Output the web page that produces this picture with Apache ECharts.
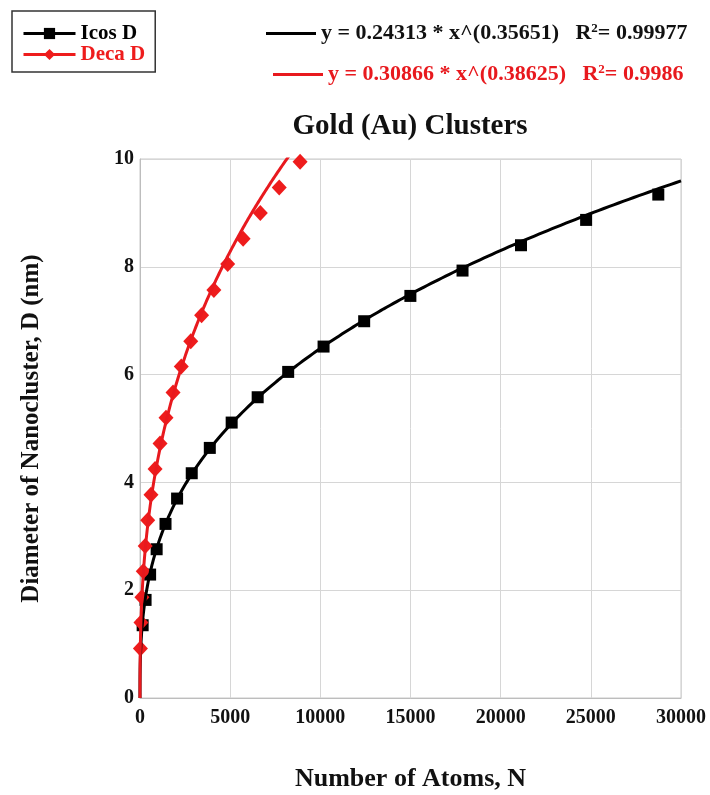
<!DOCTYPE html>
<html>
<head>
<meta charset="utf-8">
<script src="https://cdn.jsdelivr.net/npm/echarts@6/dist/echarts.min.js"></script>
<style>
  html, body { margin: 0; padding: 0; background: #fff; }
  #chart { width: 710px; height: 795px; }
</style>
</head>
<body>
<div id="chart"></div>
<script>
// Icosahedral clusters: magic numbers of atoms and cluster diameter (nm)
const icosN = [147, 309, 561, 923, 1415, 2057, 2869, 3871, 5083, 6525, 8217, 10179, 12431, 14993, 17885, 21127, 24739, 28741];
const icosD = [1.35, 1.82, 2.29, 2.76, 3.23, 3.70, 4.17, 4.64, 5.11, 5.58, 6.05, 6.52, 6.99, 7.46, 7.93, 8.40, 8.87, 9.34];

// Decahedral clusters
const decaN = [23, 54, 105, 181, 287, 428, 609, 835, 1111, 1442, 1833, 2289, 2815, 3416, 4097, 4863, 5719, 6670, 7721, 8877];
const decaD = [0.92, 1.40, 1.87, 2.35, 2.82, 3.30, 3.77, 4.25, 4.72, 5.20, 5.67, 6.15, 6.62, 7.10, 7.57, 8.05, 8.52, 9.00, 9.47, 9.95];

// Power-law fits y = a * x^b and their R^2
const icosFit = { a: 0.24313, b: 0.35651, r2: '0.99977' };
const decaFit = { a: 0.30866, b: 0.38625, r2: '0.9986' };

// Axis ticks
const xTicks = [0, 5000, 10000, 15000, 20000, 25000, 30000];
const yTicks = [0, 2, 4, 6, 8, 10];

const FONT = '"Liberation Serif", "Times New Roman", serif';

function pairs(xs, ys) { return xs.map((x, i) => [x, ys[i]]); }

// Trend curve evaluated along the x axis, denser near zero where it is steep
function fitCurve(fit, xMax) {
  const pts = [];
  const n = 300;
  for (let i = 0; i <= n; i++) {
    const x = xMax * Math.pow(i / n, 3);
    pts.push([x, fit.a * Math.pow(x, fit.b)]);
  }
  return pts;
}

function eqName(fit) { return 'y = ' + fit.a + ' * x^(' + fit.b + ')'; }

const icosEq = eqName(icosFit);
const decaEq = eqName(decaFit);

const chart = echarts.init(document.getElementById('chart'));

const eqText = (color) => ({
  fontFamily: FONT, fontWeight: 'bold', fontSize: 22, color: color,
  rich: {
    t: { fontFamily: FONT, fontWeight: 'bold', fontSize: 22, color: color },
    s: { fontFamily: FONT, fontWeight: 'bold', fontSize: 13, color: color, verticalAlign: 'top', padding: [0, 0, 10, 0] }
  }
});

chart.setOption({
  animation: false,
  backgroundColor: '#ffffff',
  title: {
    text: 'Gold (Au) Clusters',
    left: 410,
    top: 112,
    padding: 0,
    textAlign: 'center',
    textStyle: { fontFamily: FONT, fontWeight: 'bold', fontSize: 29, color: '#111' }
  },
  legend: [
    {
      data: ['Icos D', 'Deca D'],
      orient: 'vertical',
      left: 12,
      top: 11,
      itemWidth: 52,
      itemHeight: 14,
      itemGap: 0,
      padding: [12, 10, 7, 10],
      borderColor: '#333',
      borderWidth: 1.5,
      selectedMode: false,
      lineStyle: { width: 3, opacity: 1 },
      textStyle: { fontFamily: FONT, fontWeight: 'bold', fontSize: 21, color: 'inherit' }
    },
    {
      data: [icosEq],
      left: 261,
      top: 17,
      itemWidth: 50,
      itemHeight: 3,
      selectedMode: false,
      icon: 'rect',
      textStyle: eqText('#111'),
      formatter: (name) => '{t|' + name + '   R}{s|2}{t|= ' + icosFit.r2 + '}'
    },
    {
      data: [decaEq],
      left: 268,
      top: 58,
      itemWidth: 50,
      itemHeight: 3,
      selectedMode: false,
      icon: 'rect',
      textStyle: eqText('#e8191e'),
      formatter: (name) => '{t|' + name + '   R}{s|2}{t|= ' + decaFit.r2 + '}'
    }
  ],
  grid: {
    left: 140, right: 29, top: 159, bottom: 97,
    outerBoundsMode: 'none',
    show: true, borderColor: '#c8c8c8', borderWidth: 1
  },
  xAxis: {
    type: 'value',
    min: xTicks[0], max: xTicks[xTicks.length - 1], interval: 5000,
    name: 'Number of Atoms, N',
    nameLocation: 'middle',
    nameGap: 68,
    nameTextStyle: { fontFamily: FONT, fontWeight: 'bold', fontSize: 26, color: '#111' },
    axisLine: { show: true, lineStyle: { color: '#bdbdbd', width: 1 } },
    axisTick: { show: false },
    axisLabel: {
      margin: 10, fontFamily: FONT, fontWeight: 'bold', fontSize: 20, color: '#111',
      formatter: (v) => String(v)
    },
    splitLine: { show: true, lineStyle: { color: '#d6d6d6', width: 1 } }
  },
  yAxis: {
    type: 'value',
    min: yTicks[0], max: yTicks[yTicks.length - 1], interval: 2,
    name: 'Diameter of Nanocluster, D (nm)',
    nameLocation: 'middle',
    nameGap: 96,
    nameTextStyle: { fontFamily: FONT, fontWeight: 'bold', fontSize: 25, color: '#111' },
    axisLine: { show: true, lineStyle: { color: '#bdbdbd', width: 1 } },
    axisTick: { show: false },
    axisLabel: {
      margin: 6, fontFamily: FONT, fontWeight: 'bold', fontSize: 20, color: '#111',
      formatter: (v) => String(v)
    },
    splitLine: { show: true, lineStyle: { color: '#d6d6d6', width: 1 } }
  },
  series: [
    {
      name: 'Icos D',
      type: 'line',
      data: pairs(icosN, icosD),
      symbol: 'rect',
      symbolSize: 12,
      showAllSymbol: true,
      itemStyle: { color: '#000' },
      lineStyle: { color: '#000', width: 3, opacity: 0 },
      z: 3
    },
    {
      name: 'Deca D',
      type: 'line',
      data: pairs(decaN, decaD),
      symbol: 'diamond',
      symbolSize: [15, 16],
      showAllSymbol: true,
      itemStyle: { color: '#ee1c1c' },
      lineStyle: { color: '#ee1c1c', width: 3, opacity: 0 },
      z: 3
    },
    {
      name: icosEq,
      type: 'line',
      data: fitCurve(icosFit, 30000),
      showSymbol: false,
      itemStyle: { color: '#000' },
      lineStyle: { color: '#000', width: 3 },
      z: 4
    },
    {
      name: decaEq,
      type: 'line',
      data: fitCurve(decaFit, 9000),
      showSymbol: false,
      itemStyle: { color: '#e8191e' },
      lineStyle: { color: '#e8191e', width: 3 },
      z: 4
    }
  ]
});
</script>
</body>
</html>
